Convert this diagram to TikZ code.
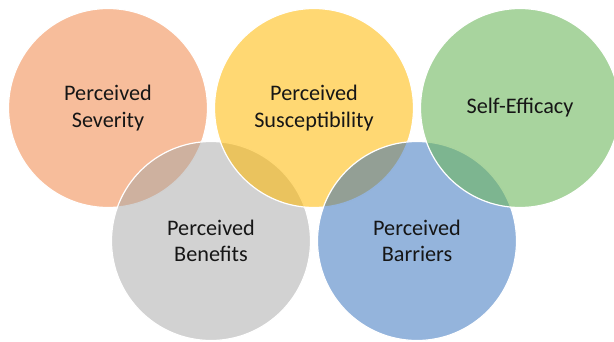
\documentclass[tikz,border=0pt]{standalone}
\usepackage{fontspec}
\setmainfont{Carlito}
\begin{document}
\begin{tikzpicture}[x=1bp,y=-1bp,
  bubble/.style 2 args={circle, minimum size=199bp, inner sep=0pt,
    fill=#1, fill opacity=#2, draw=white, line width=1.2bp,
    text opacity=1, text=textdark, align=center,
    font=\fontsize{22.3}{26.5}\selectfont}]
\definecolor{textdark}{HTML}{161616}
\definecolor{cOrange}{HTML}{F07C38}
\definecolor{cGray}{HTML}{A5A5A5}
\definecolor{cYellow}{HTML}{FFB800}
\definecolor{cBlue}{HTML}{2969B9}
\definecolor{cGreen}{HTML}{6EB75D}
\useasboundingbox (0,0) rectangle (614,341);
\clip (0,0) rectangle (614,341);
\node[bubble={cOrange}{0.5}] (severity) at (108,108) {Perceived\\Severity};
\node[bubble={cGray}{0.5}] (benefits) at (211,241) {Perceived\\Benefits};
\node[bubble={cYellow}{0.55}] (suscept) at (314,108) {Perceived\\Susceptibility};
\node[bubble={cBlue}{0.5}] (barriers) at (417,241) {Perceived\\Barriers};
\node[bubble={cGreen}{0.6}] (efficacy) at (520,108) {Self-Efficacy};
\end{tikzpicture}
\end{document}
